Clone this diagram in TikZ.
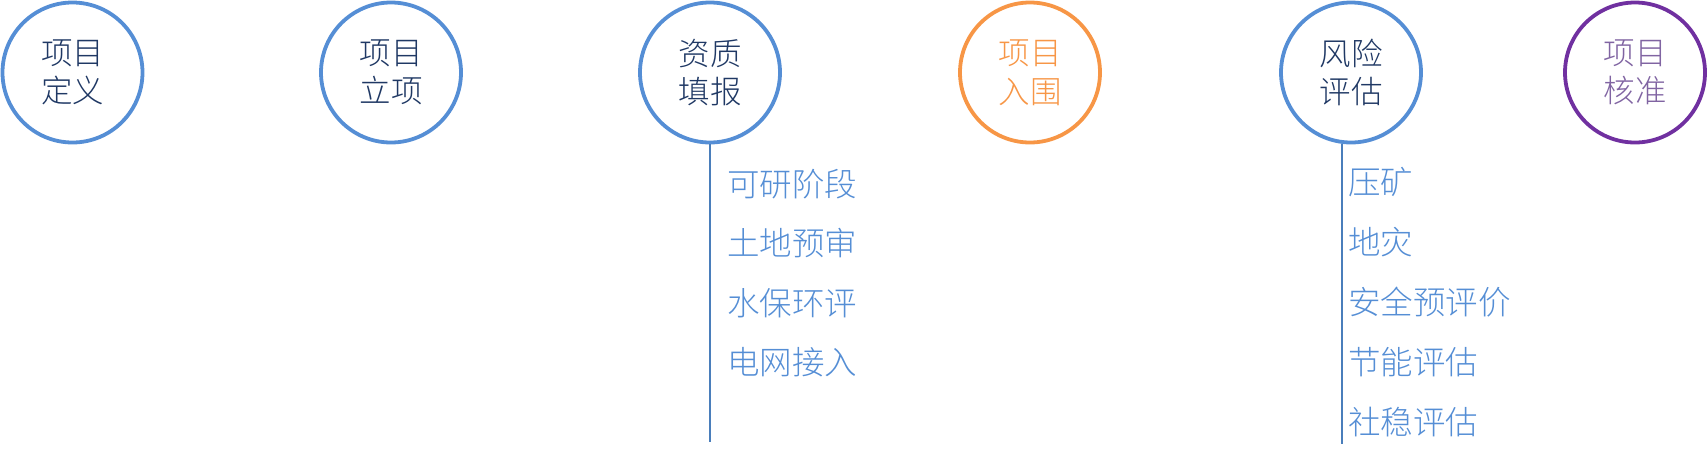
\documentclass[tikz,border=0pt]{standalone}
\usepackage{fontspec}
\newfontfamily\cjk{Noto Sans CJK SC Light}
\definecolor{cblue}{HTML}{558ED5}
\definecolor{corange}{HTML}{F79646}
\definecolor{cpurple}{HTML}{7030A0}
\definecolor{navy}{HTML}{1F3864}
\definecolor{lpurple}{HTML}{8064A2}
\definecolor{listblue}{HTML}{558ED5}
\definecolor{lineblue}{HTML}{4A7EBB}
\begin{document}
\begin{tikzpicture}[x=1pt,y=-1pt,
  stage/.style={circle,draw=cblue,line width=3.8pt,minimum size=140pt,inner sep=0pt,
    align=center,text=navy,font=\cjk\fontsize{31.5}{38.5}\selectfont},
  item/.style={anchor=west,inner sep=0pt,text=listblue,font=\cjk\fontsize{32.5}{36}\selectfont},
  vline/.style={draw=lineblue,line width=2pt}]
\useasboundingbox (0,0) rectangle (1708,459);
\node[stage] (c1) at (72.5,72.5) {项目\\定义};
\node[stage] (c2) at (391,72.5) {项目\\立项};
\node[stage] (c3) at (710,72.5) {资质\\填报};
\node[stage,draw=corange,text=corange] (c4) at (1030,72.5) {项目\\入围};
\node[stage] (c5) at (1351,72.5) {风险\\评估};
\node[stage,draw=cpurple,text=lpurple] (c6) at (1635,72.5) {项目\\核准};
\coordinate (e1) at (710,442);
\coordinate (e2) at (1342,444);
\draw[vline] (c3.south) -- (e1);
\draw[vline] (c5.south -| e2) -- (e2);
\node[item] (a1) at (727,184) {可研阶段};
\node[item] (a2) at (727,243.5) {土地预审};
\node[item] (a3) at (727,303) {水保环评};
\node[item] (a4) at (727,362.5) {电网接入};
\node[item] (b1) at (1348,182) {压矿};
\node[item] (b2) at (1348,242) {地灾};
\node[item] (b3) at (1348,302) {安全预评价};
\node[item] (b4) at (1348,362) {节能评估};
\node[item] (b5) at (1348,422) {社稳评估};
\end{tikzpicture}
\end{document}
